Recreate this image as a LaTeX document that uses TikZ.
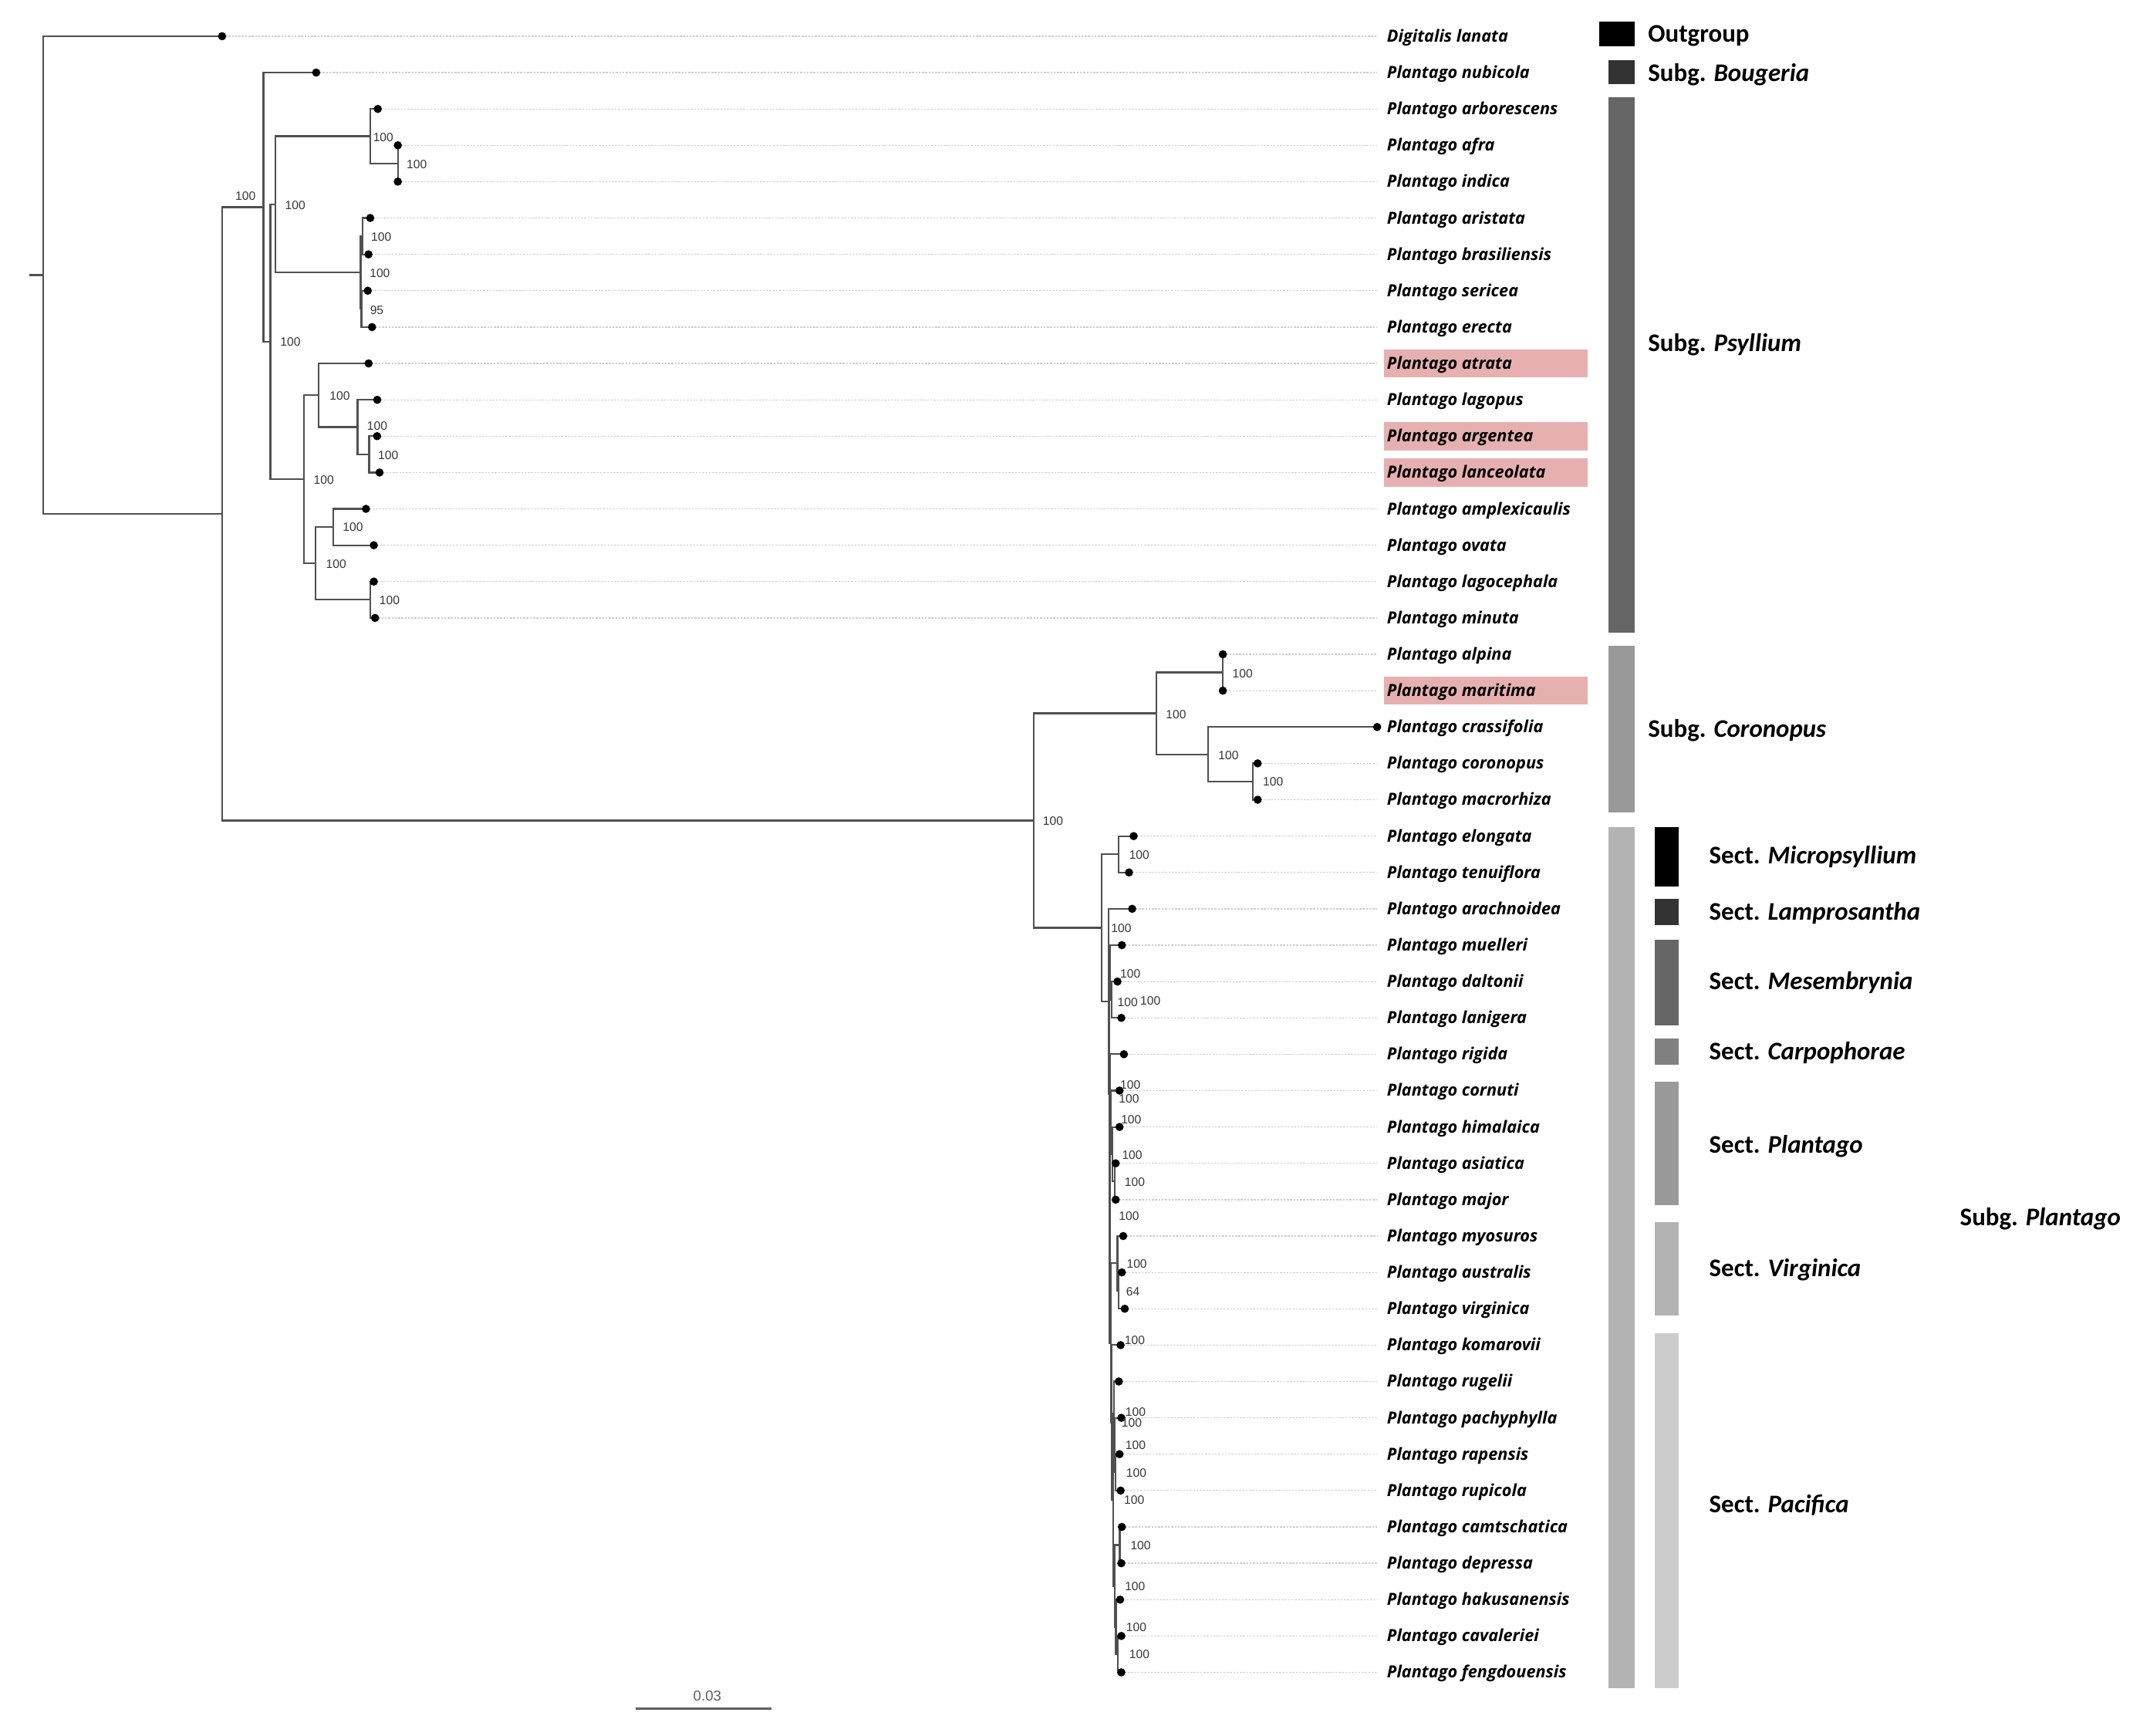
\documentclass[tikz,border=0pt]{standalone}
\usepackage{fontspec}
\newfontfamily\taxfont{Open Sans}
\newfontfamily\legfont{Carlito}
\newfontfamily\bsfont{Liberation Sans}
\definecolor{treeline}{RGB}{80,80,80}
\definecolor{leadergray}{RGB}{205,205,205}
\definecolor{bsgray}{RGB}{55,55,55}
\definecolor{scalegray}{RGB}{95,95,95}
\definecolor{hlpink}{RGB}{231,176,176}
\definecolor{c33}{HTML}{333333}
\definecolor{c66}{HTML}{666666}
\definecolor{c80}{HTML}{808080}
\definecolor{c99}{HTML}{999999}
\definecolor{cb3}{HTML}{B3B3B3}
\definecolor{ccc}{HTML}{CCCCCC}
\newcommand{\yy}[1]{{26.4+26.5*(#1)}}
\begin{document}
\begin{tikzpicture}[x=1pt,y=-1pt,
  branch/.style={draw=treeline, line width=1.25pt},
  tipdot/.style={circle, fill=black, inner sep=0pt, minimum size=6pt},
  leader/.style={draw=leadergray, line width=0.7pt, dash pattern=on 1.4pt off 1pt},
  taxon/.style={anchor=base west, inner sep=0pt, font=\taxfont\bfseries\itshape\fontsize{12.2}{14}\selectfont},
  bs/.style={inner sep=0pt, text=bsgray, font=\bsfont\fontsize{8.8}{10}\selectfont},
  legtext/.style={anchor=base west, inner sep=0pt, font=\legfont\bfseries\fontsize{18.5}{22}\selectfont},
]
\fill[white] (0,0) rectangle (1560,1265.3);
\useasboundingbox (0,0) rectangle (1560,1265.3);

% highlight boxes
\foreach \i in {9,11,12,18}
  \fill[hlpink] (1008.6,{26.4+26.5*\i-10.3}) rectangle (1157.1,{26.4+26.5*\i+10.3});

% leaves: tip coordinates, leaders, labels
\foreach \i/\x/\nm in {
 0/161.9/Digitalis lanata, 1/230.5/Plantago nubicola, 2/275.4/Plantago arborescens,
 3/290/Plantago afra, 4/290/Plantago indica, 5/269.9/Plantago aristata,
 6/268.6/Plantago brasiliensis, 7/268.1/Plantago sericea, 8/271.2/Plantago erecta,
 9/268.7/Plantago atrata, 10/275/Plantago lagopus, 11/274.9/Plantago argentea,
 12/276.7/Plantago lanceolata, 13/266.8/Plantago amplexicaulis, 14/272.5/Plantago ovata,
 15/272.5/Plantago lagocephala, 16/273.4/Plantago minuta, 17/891.4/Plantago alpina,
 18/891.4/Plantago maritima, 19/1003.9/Plantago crassifolia, 20/916.8/Plantago coronopus,
 21/916.8/Plantago macrorhiza, 22/826.4/Plantago elongata, 23/823/Plantago tenuiflora,
 24/825.3/Plantago arachnoidea, 25/817.8/Plantago muelleri, 26/814.6/Plantago daltonii,
 27/817.4/Plantago lanigera, 28/819.3/Plantago rigida, 29/816.1/Plantago cornuti,
 30/816.1/Plantago himalaica, 31/813.3/Plantago asiatica, 32/813.3/Plantago major,
 33/818.8/Plantago myosuros, 34/817.8/Plantago australis, 35/819.9/Plantago virginica,
 36/816.9/Plantago komarovii, 37/815.6/Plantago rugelii, 38/817.4/Plantago pachyphylla,
 39/816.1/Plantago rapensis, 40/816.9/Plantago rupicola, 41/817.8/Plantago camtschatica,
 42/817.4/Plantago depressa, 43/816.5/Plantago hakusanensis, 44/817.4/Plantago cavaleriei,
 45/817.4/Plantago fengdouensis}
{
  \coordinate (p\i) at (\x,\yy{\i});
  \coordinate (e\i) at (1003.9,\yy{\i});
  \draw[leader] (p\i) -- (e\i);
  \node[taxon] (lab\i) at (1010.9,{26.4+26.5*\i+4.2}) {\nm};
}

% internal nodes
\coordinate (rs)   at (21.3,\yy{6.5695});
\coordinate (root) at (31.4,\yy{6.5695});
\coordinate (ing)  at (161.9,\yy{13.139});
\coordinate (nBP)  at (192.1,\yy{4.7031});
\coordinate (nPsy) at (197.1,\yy{8.40625});
\coordinate (nP1)  at (200.9,\yy{4.625});
\coordinate (nP1a) at (269.9,\yy{2.75});
\coordinate (nAI)  at (290,\yy{3.5});
\coordinate (nP1b) at (262.9,\yy{6.5});
\coordinate (nAB)  at (264.5,\yy{5.5});
\coordinate (nSE)  at (263.5,\yy{7.5});
\coordinate (nP2)  at (221.6,\yy{12.1875});
\coordinate (nP2a) at (232.3,\yy{9.875});
\coordinate (nLag) at (260.6,\yy{10.75});
\coordinate (nAL)  at (269.1,\yy{11.5});
\coordinate (nP2b) at (230,\yy{14.5});
\coordinate (nAO)  at (242.8,\yy{13.5});
\coordinate (nLM)  at (270,\yy{15.5});
\coordinate (nCP)  at (753.7,\yy{21.574});
\coordinate (nCor) at (843.1,\yy{18.625});
\coordinate (nAMa) at (891.4,\yy{17.5});
\coordinate (nCCM) at (880.8,\yy{19.75});
\coordinate (nCM)  at (913.4,\yy{20.5});
\coordinate (nPl)  at (803,\yy{24.5234});
\coordinate (nMic) at (815.5,\yy{22.5});
\coordinate (nR1)  at (808,\yy{26.5469});
\coordinate (nR2)  at (808.5,\yy{29.0938});
\coordinate (nMes) at (809,\yy{25.75});
\coordinate (nDL)  at (810.5,\yy{26.5});
\coordinate (nR3)  at (809,\yy{32.4375});
\coordinate (nRSP) at (809.3,\yy{28.9375});
\coordinate (nSP)  at (810,\yy{29.875});
\coordinate (nHAM) at (811,\yy{30.75});
\coordinate (nAM2) at (812.8,\yy{31.5});
\coordinate (nVP)  at (809.6,\yy{35.9375});
\coordinate (nVir) at (814.6,\yy{33.75});
\coordinate (nAV)  at (815.2,\yy{34.5});
\coordinate (nPac) at (810.2,\yy{38.125});
\coordinate (nRB)  at (811.5,\yy{40.25});
\coordinate (nRug) at (812,\yy{37.875});
\coordinate (nPRR) at (812.5,\yy{38.75});
\coordinate (nRR)  at (813,\yy{39.5});
\coordinate (nB)   at (812.8,\yy{42.625});
\coordinate (nCD)  at (816.3,\yy{41.5});
\coordinate (nHCF) at (813.5,\yy{43.75});
\coordinate (nCF)  at (815,\yy{44.5});

% branches
\draw[branch] (rs) -- (root);
\foreach \a/\b in {root/p0, root/ing, ing/nBP, ing/nCP, nBP/p1, nBP/nPsy,
  nPsy/nP1, nPsy/nP2, nP1/nP1a, nP1/nP1b, nP1a/p2, nP1a/nAI, nAI/p3, nAI/p4,
  nP1b/nAB, nP1b/nSE, nAB/p5, nAB/p6, nSE/p7, nSE/p8,
  nP2/nP2a, nP2/nP2b, nP2a/p9, nP2a/nLag, nLag/p10, nLag/nAL, nAL/p11, nAL/p12,
  nP2b/nAO, nP2b/nLM, nAO/p13, nAO/p14, nLM/p15, nLM/p16,
  nCP/nCor, nCP/nPl, nCor/nAMa, nCor/nCCM, nAMa/p17, nAMa/p18, nCCM/p19, nCCM/nCM,
  nCM/p20, nCM/p21,
  nPl/nMic, nPl/nR1, nMic/p22, nMic/p23, nR1/p24, nR1/nR2, nR2/nMes, nR2/nR3,
  nMes/p25, nMes/nDL, nDL/p26, nDL/p27, nR3/nRSP, nR3/nVP, nRSP/p28, nRSP/nSP,
  nSP/p29, nSP/nHAM, nHAM/p30, nHAM/nAM2, nAM2/p31, nAM2/p32,
  nVP/nVir, nVP/nPac, nVir/p33, nVir/nAV, nAV/p34, nAV/p35,
  nPac/p36, nPac/nRB, nRB/nRug, nRB/nB, nRug/p37, nRug/nPRR, nPRR/p38, nPRR/nRR,
  nRR/p39, nRR/p40, nB/nCD, nB/nHCF, nCD/p41, nCD/p42, nHCF/p43, nHCF/nCF,
  nCF/p44, nCF/p45}
  \draw[branch] (\a) |- (\b);

% tip dots
\foreach \i in {0,...,45}
  \node[tipdot] (t\i) at (p\i) {};

% bootstrap values
\foreach \x/\y/\t [count=\k] in {
 179/143/100, 215.2/149.6/100, 279.4/99.9/100, 303.8/119.6/100, 277.9/172.5/100,
 276.9/199.1/100, 274.7/225.9/95, 211.7/249.3/100, 236/349.7/100, 247.7/288.6/100,
 275/310.3/100, 283/331.9/100, 245/411/100, 257.3/384/100, 284/437.7/100,
 767.6/598.6/100, 857.3/520.6/100, 905.8/490.8/100, 895.5/550.6/100, 928/570/100,
 830.5/623.4/100, 817.4/676.8/100, 824/709.6/100, 822/730.3/100, 838.6/729.3/100,
 824/790.8/100, 823/800.9/100, 824.6/815.9/100, 825.3/841.8/100, 827.2/861.8/100,
 823/886.4/100, 828.7/921.1/100, 825.9/941.5/64, 827.2/977.1/100, 827.8/1029.2/100,
 825/1037.1/100, 827.8/1053.6/100, 828.3/1073.8/100, 826.8/1093.3/100, 831.5/1126.7/100,
 827.4/1156.3/100, 828.3/1186.3/100, 830.6/1206.0/100}
  \node[bs] (b\k) at (\x,\y) {\t};

% legend: subgenus column
\fill[black] (1165.5,15.9) rectangle (1191.8,33.7);
\fill[c33] (1172.7,44.1) rectangle (1191.8,61.5);
\fill[c66] (1172.7,70.7) rectangle (1191.8,461);
\fill[c99] (1172.7,470.5) rectangle (1191.8,591.9);
\fill[cb3] (1172.7,602.7) rectangle (1191.8,1230.7);
\node[legtext] (gOut) at (1201.2,30.9) {Outgroup};
\node[legtext] (gBou) at (1201.2,59.5) {Subg. \textit{Bougeria}};
\node[legtext] (gPsy) at (1201.2,256.4) {Subg. \textit{Psyllium}};
\node[legtext] (gCor) at (1201.2,537.3) {Subg. \textit{Coronopus}};
\node[legtext] (gPla) at (1428.6,893.4) {Subg. \textit{Plantago}};

% legend: section column
\fill[black] (1206,602.7) rectangle (1223.8,645.9);
\fill[c33] (1206,654.9) rectangle (1223.8,674.4);
\fill[c66] (1206,685.2) rectangle (1223.8,747.6);
\fill[c80] (1206,757) rectangle (1223.8,776.1);
\fill[c99] (1206,788.3) rectangle (1223.8,878.6);
\fill[cb3] (1206,891) rectangle (1223.8,959);
\fill[ccc] (1206,972) rectangle (1223.8,1230.7);
\node[legtext] (sMic) at (1245.8,629.4) {Sect. \textit{Micropsyllium}};
\node[legtext] (sLam) at (1245.8,670.6) {Sect. \textit{Lamprosantha}};
\node[legtext] (sMes) at (1245.8,721.2) {Sect. \textit{Mesembrynia}};
\node[legtext] (sCar) at (1245.8,772.4) {Sect. \textit{Carpophorae}};
\node[legtext] (sPla) at (1245.8,840.3) {Sect. \textit{Plantago}};
\node[legtext] (sVir) at (1245.8,930.3) {Sect. \textit{Virginica}};
\node[legtext] (sPac) at (1245.8,1102.5) {Sect. \textit{Pacifica}};

% scale bar
\coordinate (sb1) at (463.4,1245.4);
\coordinate (sb2) at (562.4,1245.4);
\draw[draw=scalegray, line width=1.3pt] (sb1) -- (sb2);
\node[inner sep=0pt, text=scalegray, font=\bsfont\fontsize{10.5}{12}\selectfont] (sbl) at (515.6,1236) {0.03};
\end{tikzpicture}
\end{document}
